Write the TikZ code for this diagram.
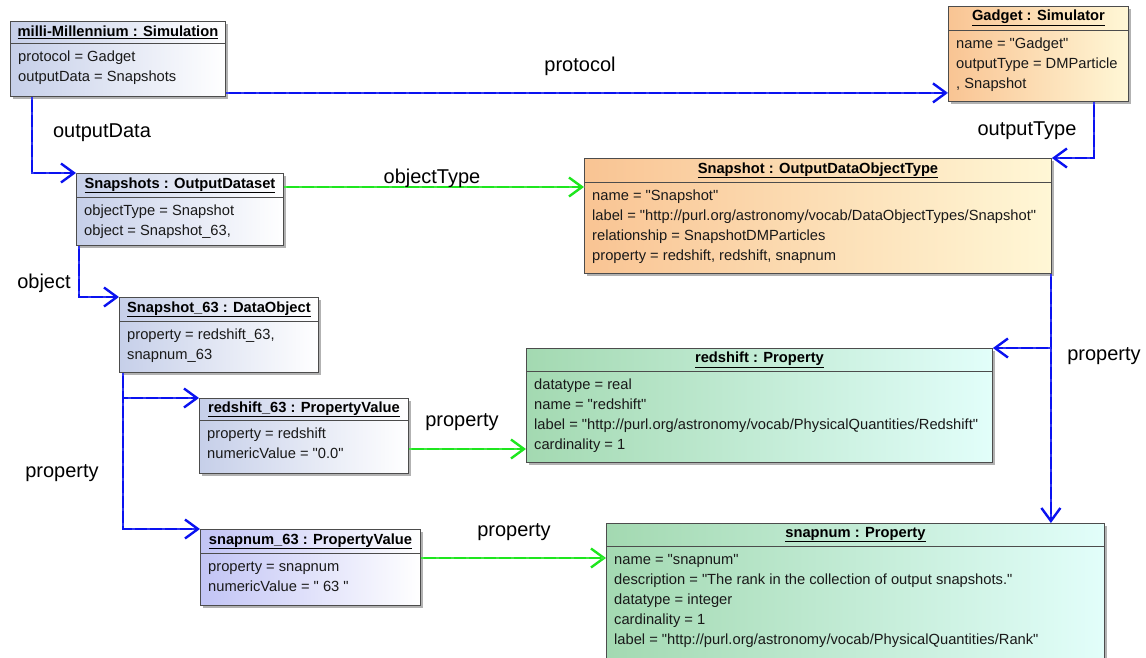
\documentclass[tikz,border=0pt]{standalone}
\usepackage{fontspec}
\setmainfont{Liberation Sans}[Ligatures=TeXOff]
\usepackage{tikz}
\usetikzlibrary{arrows.meta, shadows, positioning}

\definecolor{objblue}{HTML}{C6CFE9}
\definecolor{objlilac}{HTML}{C2C4F5}
\definecolor{objorange}{HTML}{F9C493}
\definecolor{objcream}{HTML}{FFF7D6}
\definecolor{objgreen}{HTML}{A3D9B1}
\definecolor{objcyan}{HTML}{E2FEFA}
\definecolor{linkblue}{HTML}{0A12F0}
\definecolor{linkgreen}{HTML}{1EE61E}

\tikzset{
	objbox/.style={draw=black!70, line width=0.9pt, anchor=north west, inner sep=0pt,
		drop shadow={shadow xshift=3pt, shadow yshift=-3pt, fill=black, opacity=0.3}},
	bluebox/.style={left color=objblue, right color=white},
	lilacbox/.style={left color=objlilac, right color=white},
	orangebox/.style={left color=objorange, right color=objcream},
	greenbox/.style={left color=objgreen, right color=objcyan},
	objtitle/.style={anchor=north, inner sep=0pt, font=\fontsize{14.7}{16}\selectfont\bfseries},
	objbody/.style={anchor=north west, inner xsep=8pt, inner ysep=4pt, align=left,
		font=\fontsize{14.7}{20}\selectfont, text=black!90},
	objline/.style={draw=black!70, line width=0.9pt},
	lbl/.style={anchor=base, inner sep=0pt, font=\fontsize{20}{22}\selectfont},
	assoc/.style={draw=linkblue, line width=2.4pt, ->,
		postaction={draw=white, opacity=0.15, line width=2.4pt, -, dash pattern=on 3pt off 12pt}},
	gassoc/.style={assoc, draw=linkgreen},
}

% #1 name, #2 colour style, #3 top left, #4 width, #5 height, #6 title row, #7 title, #8 slots
\newcommand{\umlobj}[8]{%
	\node[objbox, #2, minimum width=#4pt, minimum height=#5pt] (#1) at (#3) {};
	\node[objtitle, minimum height=#6pt] (#1-t) at (#1.north) {\underline{#7}};
	\draw[objline] (#1-t.south -| #1.west) -- (#1-t.south -| #1.east);
	\node[objbody] (#1-b) at (#1-t.south -| #1.west) {\strut #8};
}

\begin{document}
\begin{tikzpicture}[x=1pt, y=-1pt, >={Straight Barb[length=13pt, width=19pt]}]
	\clip (0,0) rectangle (1146,657);
	\fill[white] (0,0) rectangle (1146,657);
	
	\umlobj{milli}{bluebox}{10,21}{215}{75}{22}{milli-Millennium : Simulation}{protocol = Gadget\\outputData = Snapshots}
	\umlobj{gadget}{orangebox}{948,6}{180}{95}{24}{Gadget : Simulator}{name = "Gadget"\\outputType = DMParticle\\, Snapshot}
	\umlobj{snaps}{bluebox}{76,173}{207}{72}{24}{Snapshots : OutputDataset}{objectType = Snapshot\\object = Snapshot\_63,}
	\umlobj{odot}{orangebox}{584,158}{467}{115}{24}{Snapshot : OutputDataObjectType}{name = "Snapshot"\\label = "http://purl.org/astronomy/vocab/DataObjectTypes/Snapshot"\\relationship = SnapshotDMParticles\\property = redshift, redshift, snapnum}
	\umlobj{snap63}{bluebox}{119,297}{199}{75}{24}{Snapshot\_63 : DataObject}{property = redshift\_63,\\snapnum\_63}
	\umlobj{rs63}{bluebox}{199,398}{209}{75}{22}{redshift\_63 : PropertyValue}{property = redshift\\numericValue = "0.0"}
	\umlobj{redshift}{greenbox}{526,348}{466}{114}{23}{redshift : Property}{datatype = real\\name = "redshift"\\label = "http://purl.org/astronomy/vocab/PhysicalQuantities/Redshift"\\cardinality = 1}
	\umlobj{sn63}{lilacbox}{200,529}{220}{76}{24}{snapnum\_63 : PropertyValue}{property = snapnum\\numericValue = " 63 "}
	\umlobj{snapnum}{greenbox}{606,523}{498}{160}{23}{snapnum : Property}{name = "snapnum"\\description = "The rank in the collection of output snapshots."\\datatype = integer\\cardinality = 1\\label = "http://purl.org/astronomy/vocab/PhysicalQuantities/Rank"}
	
	% links
	\draw[assoc] ([yshift=4pt]milli.south east) -- ([yshift=4pt]milli.south east -| gadget.west);
	\draw[assoc] ([xshift=22pt]milli.south west) |- (snaps.north west);
	\draw[assoc] ([xshift=-35pt]gadget.south east) |- (odot.north east);
	\draw[gassoc] ([yshift=-14pt]snaps.north east) -- ([yshift=-14pt]snaps.north east -| odot.west);
	\draw[assoc] ([xshift=3pt]snaps.south west) |- (snap63.north west);
	\draw[assoc] ([xshift=-1pt]odot.south east) -- ([xshift=-1pt]odot.south east |- snapnum.north);
	\draw[assoc] ([xshift=-1pt]odot.south east |- redshift.north east) -- (redshift.north east);
	\draw[assoc] ([xshift=4pt]snap63.south west) |- (rs63.north west);
	\draw[assoc] ([xshift=4pt]snap63.south west) |- (sn63.north west);
	\draw[gassoc] ([yshift=-51pt]rs63.north east) -- ([yshift=-51pt]rs63.north east -| redshift.west);
	\draw[gassoc] ([yshift=-29pt]sn63.north east) -- ([yshift=-29pt]sn63.north east -| snapnum.west);
	
	% link labels
	\node[lbl] (l-protocol) at (580,71) {protocol};
	\node[lbl] (l-output) at (102,137) {outputData};
	\node[lbl] (l-otype) at (1027,135) {outputType};
	\node[lbl] (l-objtype) at (432,183) {objectType};
	\node[lbl] (l-object) at (44,288) {object};
	\node[lbl] (l-prop1) at (1104,360) {property};
	\node[lbl] (l-prop2) at (62,477) {property};
	\node[lbl] (l-prop3) at (462,426) {property};
	\node[lbl] (l-prop4) at (514,536) {property};
\end{tikzpicture}
\end{document}
